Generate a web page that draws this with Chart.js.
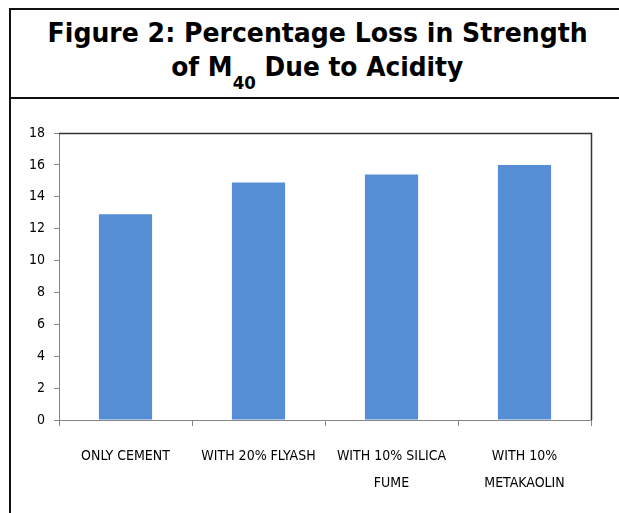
<!DOCTYPE html>
<html>
<head>
<meta charset="utf-8">
<script src="https://cdn.jsdelivr.net/npm/chart.js@4/dist/chart.umd.min.js"></script>
<style>
  html, body { margin: 0; padding: 0; background: #fff; }
  #page { position: relative; width: 619px; height: 513px; overflow: hidden; background: #fff; }
  #frame { position: absolute; left: 9px; top: 8px; width: 640px; height: 540px;
           border-left: 2px solid #111; border-top: 2px solid #111; }
  #rule { position: absolute; left: 9px; top: 97px; width: 640px; height: 0; border-top: 2px solid #111; }
  .tline { position: absolute; left: 8px; width: 619px; text-align: center;
           font-family: "DejaVu Sans", Verdana, sans-serif; font-weight: bold; font-size: 27px;
           color: #000; white-space: nowrap; }
  .tline span.in { display: inline-block; transform-origin: center; }
  .tline sub { font-size: 18px; vertical-align: -13px; line-height: 0; }
  #t1 { top: 17px; }
  #t2 { top: 51px; }
  #chart { position: absolute; left: 0; top: 0; }
</style>
</head>
<body>
<div id="page">
  <div id="frame"></div>
  <div id="rule"></div>
  <div class="tline" id="t1"><span class="in" id="t1in">Figure 2: Percentage Loss in Strength</span></div>
  <div class="tline" id="t2"><span class="in" id="t2in">of M<sub>40</sub> Due to Acidity</span></div>
  <canvas id="chart" width="619" height="513"></canvas>
</div>
<script>
// Percentage loss in compressive strength of M40 concrete after acid exposure
const categories = [
  "ONLY CEMENT",
  "WITH 20% FLYASH",
  ["WITH 10% SILICA", "FUME"],
  ["WITH 10%", "METAKAOLIN"]
];
const lossPercent = [12.9, 14.9, 15.4, 16.0];
const yTicks = [0, 2, 4, 6, 8, 10, 12, 14, 16, 18];

// squeeze the heading lines to their set widths
function fitLine(id, width) {
  const el = document.getElementById(id);
  const w = el.getBoundingClientRect().width;
  el.style.transform = 'scaleX(' + (width / w) + ')';
}
fitLine('t1in', 540);
fitLine('t2in', 292);

const labelFont = '"Liberation Sans Narrow", "DejaVu Sans Condensed", "Arial Narrow", sans-serif';

// plot-area outline: dark top/right edges
const plotOutline = {
  id: 'plotOutline',
  afterDraw(chart) {
    const { ctx, chartArea: a } = chart;
    ctx.save();
    ctx.strokeStyle = '#333';
    ctx.lineWidth = 1.5;
    ctx.beginPath();
    ctx.moveTo(a.left, a.top + 0.5);
    ctx.lineTo(a.right + 0.5, a.top + 0.5);
    ctx.lineTo(a.right + 0.5, a.bottom);
    ctx.stroke();
    ctx.restore();
  }
};

new Chart(document.getElementById('chart'), {
  type: 'bar',
  data: {
    labels: categories,
    datasets: [{
      data: lossPercent,
      backgroundColor: '#558ED5',
      borderWidth: 0,
      barPercentage: 0.4,
      categoryPercentage: 1.0
    }]
  },
  options: {
    responsive: false,
    animation: false,
    layout: { padding: { left: 0, top: 133, right: 28, bottom: 0 } },
    plugins: { legend: { display: false }, tooltip: { enabled: false }, title: { display: false } },
    scales: {
      x: {
        offset: true,
        afterFit(s) { s.height = 93; },
        border: { color: '#868686', width: 1 },
        grid: { offset: true, drawOnChartArea: false, drawTicks: true, tickLength: 6, color: '#868686' },
        ticks: {
          color: '#000', padding: 17,
          font: { family: labelFont, size: 14, lineHeight: 1.9 },
          maxRotation: 0, autoSkip: false
        }
      },
      y: {
        min: 0, max: 18,
        afterFit(s) { s.width = 59; },
        afterBuildTicks(s) { s.ticks = yTicks.map(v => ({ value: v })); },
        border: { color: '#868686', width: 1 },
        grid: { drawOnChartArea: false, drawTicks: true, tickLength: 5, color: '#868686' },
        ticks: {
          color: '#000', padding: 9,
          font: { family: labelFont, size: 14 }
        }
      }
    }
  },
  plugins: [plotOutline]
});
</script>
</body>
</html>
